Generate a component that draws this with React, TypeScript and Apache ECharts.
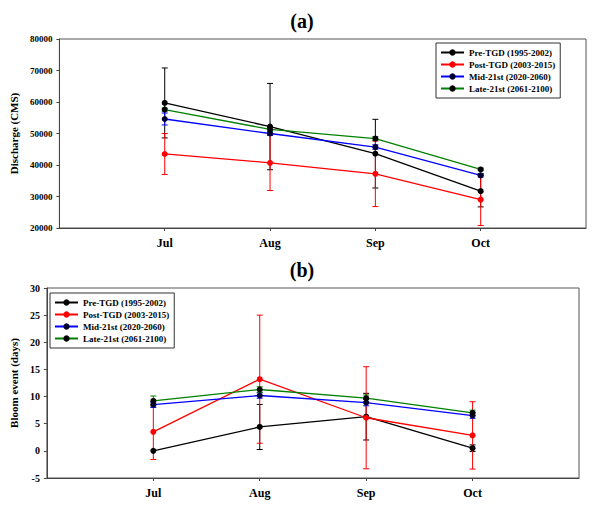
import React, { useEffect, useRef } from "react";
import * as echarts from "echarts";

const months = ["Jul", "Aug", "Sep", "Oct"];
const seriesNames = [
  "Pre-TGD (1995-2002)",
  "Post-TGD (2003-2015)",
  "Mid-21st (2020-2060)",
  "Late-21st (2061-2100)",
];
const lineColors = ["#000000", "#ff0000", "#0000ff", "#008000"];
const markerColors = ["#000000", "#ff0000", "#000033", "#000000"];

// Panel (a): Discharge (CMS)
const preA = [59700, 52200, 43600, 31700];
const preAErr = [11100, 13700, 10900, 5000];
const postA = [43500, 40700, 37200, 29000];
const postAErr = [6500, 8800, 10400, 8200];
const midA = [54600, 50000, 45700, 36700];
const midAErr = [1900, 600, 700, 500];
const lateA = [57600, 51300, 48400, 38600];
const lateAErr = [500, 600, 600, 400];

// Panel (b): Bloom event (days)
const preB = [0, 4.4, 6.3, 0.5];
const preBErr = [0, 4.15, 4.3, 0.6];
const postB = [3.5, 13.2, 6.1, 2.85];
const postBErr = [5.1, 11.8, 9.4, 6.2];
const midB = [8.5, 10.2, 8.9, 6.5];
const midBErr = [0.5, 0.5, 0.6, 0.5];
const lateB = [9.2, 11.3, 9.7, 7.0];
const lateBErr = [0.9, 0.5, 0.6, 0.5];

const FONT = '"Liberation Serif", "Times New Roman", serif';

export default function App() {
  const ref = useRef<HTMLDivElement>(null);
  useEffect(() => {
    document.body.style.margin = "0";
    if (!ref.current) return;
    const chart = echarts.init(ref.current, undefined, { renderer: "svg" });
    const xCats = ["", ...months, ""];

    const panels = [
      { vals: [preA, postA, midA, lateA], errs: [preAErr, postAErr, midAErr, lateAErr] },
      { vals: [preB, postB, midB, lateB], errs: [preBErr, postBErr, midBErr, lateBErr] },
    ];

    const series: any[] = [];
    panels.forEach((p, pi) => {
      p.vals.forEach((vals, si) => {
        const errs = p.errs[si];
        series.push({
          type: "custom",
          xAxisIndex: pi,
          yAxisIndex: pi,
          z: 1,
          silent: true,
          encode: { x: 0, y: [1, 2] },
          data: vals.map((v, i) => [i + 1, v - errs[i], v + errs[i], errs[i]]),
          renderItem: (params: any, api: any) => {
            if (api.value(3) === 0) return null;
            const x = api.value(0);
            const lo = api.coord([x, api.value(1)]);
            const hi = api.coord([x, api.value(2)]);
            const w = 3;
            const style = { stroke: lineColors[si], lineWidth: 1 };
            return {
              type: "group",
              children: [
                { type: "line", shape: { x1: lo[0], y1: lo[1], x2: hi[0], y2: hi[1] }, style },
                { type: "line", shape: { x1: lo[0] - w, y1: lo[1], x2: lo[0] + w, y2: lo[1] }, style },
                { type: "line", shape: { x1: hi[0] - w, y1: hi[1], x2: hi[0] + w, y2: hi[1] }, style },
              ],
            };
          },
        });
      });
      p.vals.forEach((vals, si) => {
        series.push({
          type: "line",
          name: seriesNames[si],
          xAxisIndex: pi,
          yAxisIndex: pi,
          z: 3,
          symbol: "circle",
          symbolSize: 6,
          lineStyle: { color: lineColors[si], width: 1.3 },
          itemStyle: { color: markerColors[si] },
          data: vals.map((v, i) => [i + 1, v]),
        });
      });
    });

    const xAxisCommon = (gi: number) => ({
      type: "category",
      gridIndex: gi,
      data: xCats,
      boundaryGap: false,
      axisLine: { onZero: false, lineStyle: { color: "#444", width: 1 } },
      axisTick: {
        show: true,
        length: 3,
        inside: false,
        interval: (idx: number, v: string) => v !== "",
        lineStyle: { color: "#444" },
      },
      axisLabel: {
        interval: 0,
        margin: 9,
        color: "#000",
        fontFamily: FONT,
        fontWeight: "bold",
        fontSize: 12,
      },
      splitLine: { show: false },
    });

    const yAxisCommon = (gi: number, min: number, max: number, interval: number, name: string, fs: number, gap: number) => ({
      type: "value",
      gridIndex: gi,
      min,
      max,
      interval,
      name,
      nameLocation: "middle",
      nameGap: gap,
      nameTextStyle: { color: "#000", fontFamily: FONT, fontWeight: "bold", fontSize: 11 },
      axisLine: { show: true, onZero: false, lineStyle: { color: "#444", width: 1 } },
      axisTick: { show: true, length: 3, inside: false, lineStyle: { color: "#444" } },
      axisLabel: {
        margin: 7,
        color: "#000",
        fontFamily: FONT,
        fontWeight: "bold",
        fontSize: fs,
        formatter: (v: number) => String(v),
      },
      splitLine: { show: false },
    });

    const legendCommon = (left: number, top: number) => ({
      left,
      top,
      orient: "vertical",
      padding: [5, 5, 5, 4],
      itemGap: 3,
      itemWidth: 23,
      itemHeight: 8,
      borderColor: "#333",
      borderWidth: 1,
      backgroundColor: "#fff",
      textStyle: { color: "#000", fontFamily: FONT, fontWeight: "bold", fontSize: 9 },
      data: seriesNames,
    });

    chart.setOption({
      animation: false,
      backgroundColor: "#fff",
      grid: [
        { left: 52, top: 39, width: 534, height: 189, show: true, borderColor: "#555", borderWidth: 1 },
        { left: 46, top: 288, width: 533, height: 190, show: true, borderColor: "#555", borderWidth: 1 },
      ],
      xAxis: [xAxisCommon(0), xAxisCommon(1)],
      yAxis: [
        yAxisCommon(0, 20000, 80000, 10000, "Discharge (CMS)", 9, 40),
        yAxisCommon(1, -5, 30, 5, "Bloom event (days)", 10, 22),
      ],
      legend: [legendCommon(436, 43), legendCommon(50, 293)],
      graphic: [
        {
          type: "text",
          x: 302,
          y: 21,
          style: { text: "(a)", align: "center", verticalAlign: "middle", fontFamily: FONT, fontWeight: "bold", fontSize: 20, fill: "#000" },
        },
        {
          type: "text",
          x: 302,
          y: 270,
          style: { text: "(b)", align: "center", verticalAlign: "middle", fontFamily: FONT, fontWeight: "bold", fontSize: 20, fill: "#000" },
        },
      ],
      series,
    });
    return () => chart.dispose();
  }, []);
  return <div ref={ref} style={{ width: 602, height: 509 }} />;
}
